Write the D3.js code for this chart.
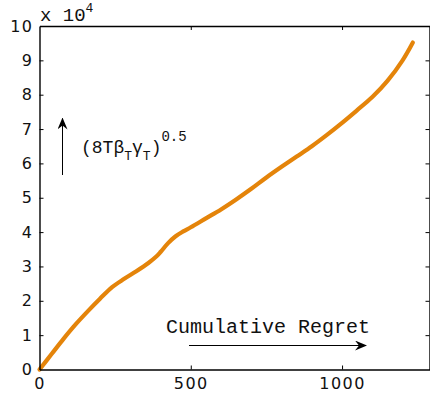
<!DOCTYPE html>
<html><head><meta charset="utf-8">
<script src="https://cdn.jsdelivr.net/npm/d3@7"></script>
<style>body{margin:0;background:#fff}svg{display:block}</style>
</head><body>
<script>
const regretX = [0, 40, 80, 120, 160, 200, 240, 280, 320, 360, 385, 400, 425, 450, 475, 500, 550, 600, 650, 700, 750, 800, 850, 900, 950, 1000, 1050, 1100, 1150, 1200, 1234];
const boundY = [0, 0.45, 0.90, 1.32, 1.70, 2.06, 2.40, 2.64, 2.86, 3.10, 3.28, 3.42, 3.68, 3.88, 4.02, 4.14, 4.40, 4.66, 4.95, 5.26, 5.59, 5.90, 6.20, 6.50, 6.83, 7.18, 7.55, 7.93, 8.40, 9.00, 9.52];
const xTicks = [0, 500, 1000];
const yTicks = [0, 1, 2, 3, 4, 5, 6, 7, 8, 9, 10];

const W = 430, H = 400;
const svg = d3.select("body").append("svg").attr("width", W).attr("height", H);
const x = d3.scaleLinear().domain([0, 1289]).range([39.5, 429.5]);
const y = d3.scaleLinear().domain([0, 10]).range([369.5, 26]);

const defs = svg.append("defs");
defs.append("marker").attr("id", "ah").attr("viewBox", "0 0 12 10").attr("refX", 11).attr("refY", 5)
  .attr("markerWidth", 12).attr("markerHeight", 10).attr("markerUnits", "userSpaceOnUse").attr("orient", "auto")
  .append("path").attr("d", "M0,0 L12,5 L0,10 L4,5 Z").attr("fill", "#000");

// line
const line = d3.line().x((d, i) => x(regretX[i])).y(d => y(d)).curve(d3.curveCatmullRom.alpha(0.5));
svg.append("path").datum(boundY).attr("d", line).attr("fill", "none")
  .attr("stroke", "#e4840a").attr("stroke-width", 4.2).attr("stroke-linecap", "round").attr("stroke-linejoin", "round");

// axes
const tickFont = "'DejaVu Sans', sans-serif";
const gB = svg.append("g").attr("transform", `translate(0,${y(0)})`)
  .call(d3.axisBottom(x).tickValues(xTicks).tickFormat(d3.format("d")).tickSizeInner(-4).tickSizeOuter(0).tickPadding(8));
const gT = svg.append("g").attr("transform", `translate(0,${y(10)})`)
  .call(d3.axisTop(x).tickValues(xTicks).tickSizeInner(-4).tickSizeOuter(0).tickFormat(""));
const gL = svg.append("g").attr("transform", `translate(${x(0)},0)`)
  .call(d3.axisLeft(y).tickValues(yTicks).tickFormat(d3.format("d")).tickSizeInner(-4).tickSizeOuter(0).tickPadding(6));
const gR = svg.append("g").attr("transform", `translate(${x(1289)},0)`)
  .call(d3.axisRight(y).tickValues(yTicks).tickSizeInner(-4).tickSizeOuter(0).tickFormat(""));
[gB, gT, gL, gR].forEach(g => {
  g.select(".domain").attr("stroke", "#000").attr("stroke-width", 1.4);
  g.selectAll(".tick line").attr("stroke", "#000").attr("stroke-width", 1);
  g.selectAll("text").attr("font-family", tickFont).attr("font-size", 16).attr("fill", "#111").attr("letter-spacing", "1.5px");
});
gB.selectAll(".tick").filter(d => d === 0).select("line").remove();
gL.selectAll(".tick").filter(d => d === 0 || d === 10).select("line").remove();
gR.selectAll(".tick").filter(d => d === 0 || d === 10).select("line").remove();
gT.selectAll(".tick").filter(d => d === 0).select("line").remove();

const mono = "'Liberation Mono', 'Courier New', monospace";
// exponent label
const ex = svg.append("text").attr("x", 40).attr("y", 21).attr("font-family", mono).attr("font-size", 19).attr("fill", "#111");
ex.append("tspan").text("x 10");
ex.append("tspan").attr("dy", -9).attr("font-size", 13).text("4");

// x annotation
svg.append("text").attr("x", 166).attr("y", 333).attr("font-family", mono).attr("font-size", 20).attr("fill", "#111")
  .text("Cumulative Regret");
svg.append("line").attr("x1", 189).attr("y1", 345.5).attr("x2", 366).attr("y2", 345.5)
  .attr("stroke", "#000").attr("stroke-width", 1).attr("marker-end", "url(#ah)");

// y annotation
svg.append("line").attr("x1", 62.5).attr("y1", 175).attr("x2", 62.5).attr("y2", 118.5)
  .attr("stroke", "#000").attr("stroke-width", 1).attr("marker-end", "url(#ah)");
const yl = svg.append("text").attr("x", 81).attr("y", 153).attr("font-family", mono).attr("font-size", 18).attr("fill", "#111");
yl.append("tspan").text("(8T\u03B2");
yl.append("tspan").attr("dy", 7).attr("font-size", 13).text("T");
yl.append("tspan").attr("dy", -7).text("\u03B3");
yl.append("tspan").attr("dy", 7).attr("font-size", 13).text("T");
yl.append("tspan").attr("dy", -7).text(")");
yl.append("tspan").attr("dy", -12).attr("font-size", 14).text("0.5");
</script>
</body></html>
